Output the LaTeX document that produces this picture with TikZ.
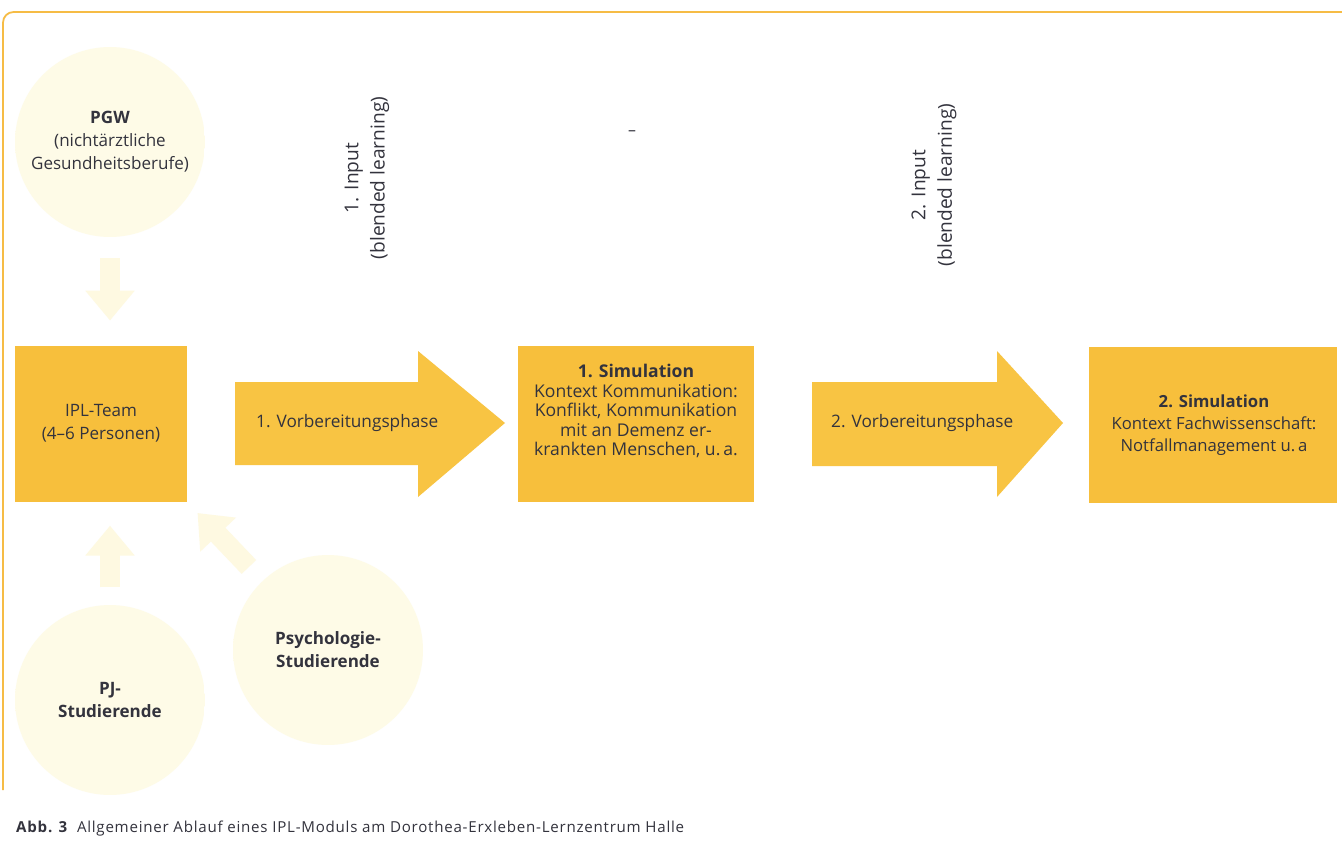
\documentclass[tikz,border=0pt]{standalone}
\usepackage{fontspec}
\setmainfont{Open Sans}
\usetikzlibrary{arrows.meta}
\definecolor{boxorange}{HTML}{F7BF3C}
\definecolor{arroworange}{HTML}{F8C443}
\definecolor{pale}{HTML}{FEFBE7}
\definecolor{faintarr}{HTML}{FEF9E1}
\definecolor{txt}{HTML}{33333D}
\definecolor{framecol}{HTML}{F6BC45}
\pgfdeclareradialshading{softcircle}{\pgfpoint{0cm}{0cm}}{color(0bp)=(pale); color(26bp)=(pale); color(50bp)=(white)}
\begin{document}
\begin{tikzpicture}[x=0.02cm,y=-0.02cm,
  orangebox/.style={fill=boxorange, inner sep=0pt, minimum height=3.14cm},
  boxtext/.style={text=txt, align=center, inner sep=0pt, font=\fontsize{10}{11.1}\selectfont},
  softcirc/.style={circle, shading=softcircle, minimum size=3.8cm, inner sep=0pt,
    align=center, text=txt, font=\fontsize{9.7}{13}\selectfont},
  faint/.style={draw=faintarr, line width=11.4pt, -{Triangle[width=27pt,length=17pt]}},
  bigarrow/.style={fill=arroworange},
  labeltext/.style={text=txt, font=\fontsize{9.8}{12}\selectfont},
  rotlabel/.style={text=txt, rotate=90, align=center, font=\fontsize{10.9}{15}\selectfont}]
\useasboundingbox (0,0) rectangle (1342,865);
\fill[white] (0,0) rectangle (1342,865);
% frame
\draw[framecol, line width=1pt, rounded corners=6pt] (3,790) -- (3,12) -- (1342,12);

% circles
\node[softcirc] (pgw) at (110,142) {\textbf{PGW}\\(nichtärztliche\\Gesundheitsberufe)};
\node[softcirc] (pj) at (110,700) {\textbf{PJ-}\\\textbf{Studierende}};
\node[softcirc] (psy) at (328,650) {\textbf{Psychologie-}\\\textbf{Studierende}};

% IPL team
\node[orangebox, minimum width=3.46cm] (ipl) at (101,424) {};
\node[boxtext, font=\fontsize{9.7}{13}\selectfont] (ipltext) at (101,423) {IPL-Team\\(4--6 Personen)};

% faint arrows
\draw[faint, shorten <=12pt, shorten >=14pt] (pgw.south) -- (pgw.south |- ipl.north);
\draw[faint, shorten <=10pt, shorten >=13pt] (pj.north) -- (pj.north |- ipl.south);
\draw[faint, shorten <=11pt, shorten >=8pt] (psy) -- (ipl.south east);

% simulation boxes
\node[orangebox, minimum width=4.74cm] (sim1) at (636,424) {};
\node[boxtext] (sim1text) at (636,411) {\textbf{1. Simulation}\\Kontext Kommunikation:\\Konflikt, Kommunikation\\mit an Demenz er-\\krankten Menschen, u.\,a.};
\node[orangebox, minimum width=4.98cm] (sim2) at (1213,425) {};
\node[boxtext, font=\fontsize{9.5}{12.5}\selectfont] (sim2text) at (1214,425) {\textbf{2. Simulation}\\Kontext Fachwissenschaft:\\Notfallmanagement u.\,a};

% big arrows
\fill[bigarrow] (235,382) -- (418,382) -- (418,351) -- (505,423) -- (418,497) -- (418,465) -- (235,465) -- cycle;
\node[labeltext, anchor=west] (v1) at (250,423) {1. Vorbereitungsphase};
\fill[bigarrow] (812,382) -- (997,382) -- (997,351) -- (1063,423) -- (997,497) -- (997,466) -- (812,466) -- cycle;
\node[labeltext, anchor=west] (v2) at (825,423) {2. Vorbereitungsphase};

% rotated input labels
\node[rotlabel] (in1) at (367,178) {1. Input\\(blended learning)};
\node[rotlabel] (in2) at (934,185) {2. Input\\(blended learning)};

% small dash
\node[text=txt, font=\fontsize{9}{11}\selectfont] (dash) at (632,133) {--};

% caption
\node[anchor=west, text=txt, font=\fontsize{8.6}{10}\selectfont\addfontfeatures{LetterSpace=5}] (cap) at (10,829) {\textbf{Abb. 3}\hspace{0.6em}Allgemeiner Ablauf eines IPL-Moduls am Dorothea-Erxleben-Lernzentrum Halle};
\end{tikzpicture}
\end{document}
